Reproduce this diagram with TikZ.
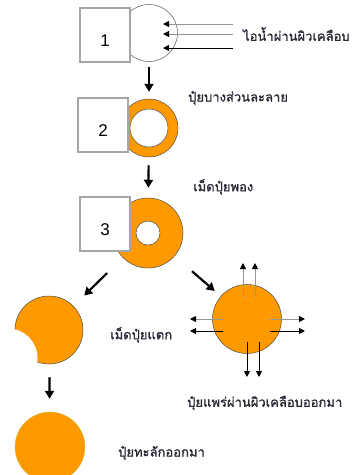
\documentclass[tikz,border=0pt]{standalone}
\usepackage{fontspec}
\setmainfont{Liberation Sans}
\newfontfamily\thaifont[Script=Thai,FakeBold=1.1]{Loma}
\usetikzlibrary{arrows.meta,positioning}
\definecolor{Granule}{RGB}{255,153,0}
\definecolor{BoxGray}{RGB}{165,165,165}
\definecolor{LabelInk}{RGB}{40,40,55}
\definecolor{FlowGray}{RGB}{150,150,150}
\definecolor{BeadEdge}{RGB}{205,195,70}
\tikzset{
  stage/.style={draw=BoxGray,line width=1.4pt,fill=white,minimum width=50pt,minimum height=54pt,inner sep=0pt},
  stagenum/.style={font=\fontsize{17}{17}\selectfont,inner sep=0pt},
  shell/.style={circle,draw=black!65,line width=0.5pt,fill=white,inner sep=0pt},
  bead/.style={circle,draw=black!70,line width=0.5pt,fill=Granule,inner sep=0pt},
  hole/.style={circle,draw=black!70,line width=0.5pt,fill=white,inner sep=0pt},
  note/.style={anchor=west,inner sep=0pt,text=LabelInk,font=\thaifont\fontsize{13}{15}\selectfont},
  flow/.style={-{Triangle[length=8pt,width=9pt]},line width=2.2pt},
  seep/.style={-{Triangle[length=6pt,width=6pt,color=black]},line width=0.9pt}
}
\begin{document}
\begin{tikzpicture}[x=1pt,y=-1pt]
\useasboundingbox (0,0) rectangle (356,475);

% stage 1: vapour enters the coating
\node[shell,minimum size=57pt] (coat1) at (149,33) {};
\foreach \y/\c [count=\i] in {24/FlowGray,34/FlowGray,48/black}{
  \coordinate (vin\i) at (233,\y);
  \coordinate (vtip\i) at (163,\y);
  \draw[seep,draw=\c] (vin\i)--(vtip\i);
}
\node[stage] (box1) at (105,35) {};
\node[stagenum] at ([yshift=-6pt]box1.center) {1};
\node[note] (vapour) at (243,34) {ไอน้ำผ่านผิวเคลือบ};

% stage 2: partly dissolved
\node[bead,minimum size=58pt] (ring2) at (149,128) {};
\node[hole,minimum size=38pt] (core2) at (149,128) {};
\node[stage] (box2) at (103,125) {};
\node[stagenum] at ([yshift=-6pt]box2.center) {2};
\node[note] (dissolve) at (188,98) {ปุ๋ยบางส่วนละลาย};

% stage 3: swollen granule
\node[bead,minimum size=70pt] (ring3) at (148,233) {};
\node[hole,minimum size=24pt] (core3) at (148,233) {};
\node[stage] (box3) at (105,224) {};
\node[stagenum] at ([yshift=-6pt]box3.center) {3};
\node[note] (swell) at (193,187) {เม็ดปุ๋ยพอง};

% burst granule
\node[bead,minimum size=68pt] (burst) at (49,330) {};
\fill[white] (8,358) circle (29.5pt);
\node[note] (cracked) at (110,335) {เม็ดปุ๋ยแตก};

% released granule
\node[bead,draw=BeadEdge,line width=0.4pt,minimum size=70pt] (spill) at (50,447) {};
\node[note] (gush) at (118,453) {ปุ๋ยทะลักออกมา};

% diffusion through the coating
\node[bead,minimum size=69pt] (spread) at (247,319) {};
\node[note] (diffuse) at (187,403) {ปุ๋ยแพร่ผ่านผิวเคลือบออกมา};
\foreach \d/\c in {-4/FlowGray,8/FlowGray}
  \draw[seep,draw=\c] ([xshift=\d pt,yshift=22pt]spread.center)--([xshift=\d pt,yshift=56pt]spread.center);
\foreach \d/\c in {0/FlowGray,-12/black}{
  \draw[seep,draw=\c] ([xshift=-24pt,yshift=\d pt]spread.center)--([xshift=-57pt,yshift=\d pt]spread.center);
  \draw[seep,draw=\c] ([xshift=23pt,yshift=\d pt]spread.center)--([xshift=58pt,yshift=\d pt]spread.center);
}
\foreach \d/\c in {0/black,12/black}
  \draw[seep,draw=\c] ([xshift=\d pt,yshift=-23pt]spread.center)--([xshift=\d pt,yshift=-58pt]spread.center);

% stage arrows
\draw[flow,shorten <=5.5pt,shorten >=7pt] (coat1)--(ring2);
\draw[flow,shorten <=8pt,shorten >=10pt] (ring2)--(ring3);
\draw[flow,shorten <=22pt,shorten >=15pt] (ring3)--(burst);
\draw[flow,shorten <=23pt,shorten >=8pt] (ring3)--(spread);
\draw[flow,shorten <=13pt,shorten >=13pt] (burst)--(spill);
\end{tikzpicture}
\end{document}
